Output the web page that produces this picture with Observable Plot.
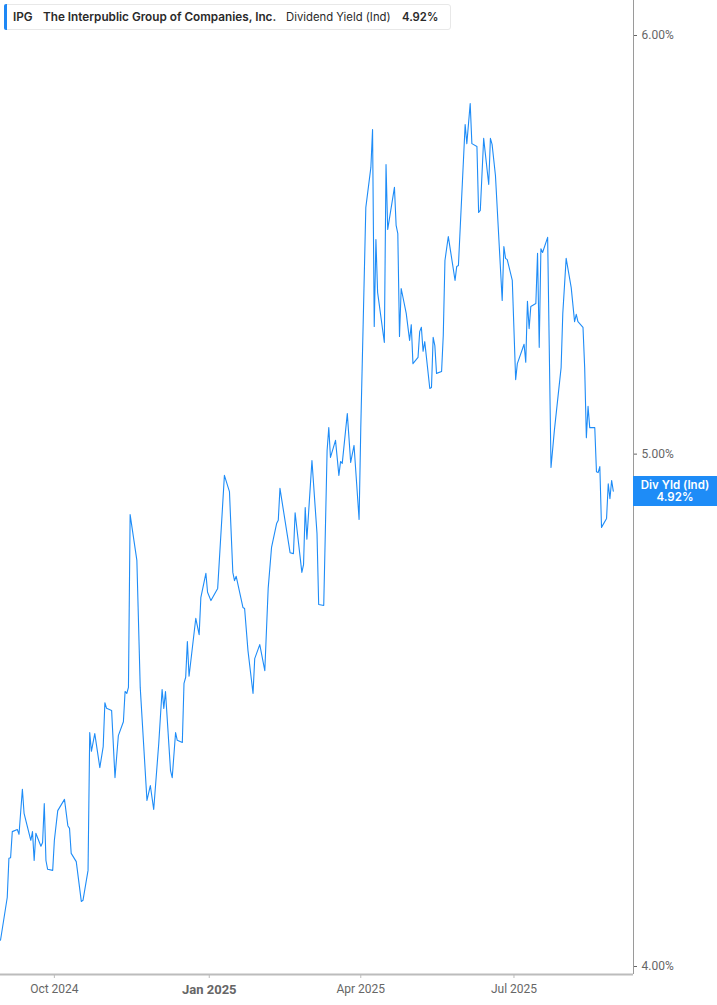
<!DOCTYPE html>
<html>
<head>
<meta charset="utf-8">
<script src="https://cdn.jsdelivr.net/npm/d3@7"></script>
<script src="https://cdn.jsdelivr.net/npm/@observablehq/plot@0.6"></script>
<style>
  body { margin: 0; background: #fff; }
  #wrap { position: relative; width: 717px; height: 1005px; overflow: hidden; background: #fff; }
  #legend { position: absolute; left: 4px; top: 4px; width: 447px; height: 26px; box-sizing: border-box;
    border: 1px solid #e8e8e8; border-radius: 3px; background: #fff;
    font-family: Inter, "Noto Sans", sans-serif; font-size: 11.3px; color: #2a2a2a; }
  #legend .bar { position: absolute; left: -1px; top: -1px; width: 3px; height: 26px; background: #1e88f5; border-radius: 2px 0 0 2px; }
  #legend span { position: absolute; top: 5px; white-space: nowrap; line-height: 14px; }
  #legend .b { font-weight: 600; }
  #legend .big { font-size: 11.75px; }
  #tag { position: absolute; left: 633px; width: 84px; height: 30px; background: #1e8cf7; color: #fff;
    font-family: Inter, "Noto Sans", sans-serif; font-weight: 600; font-size: 11.5px; text-align: center; line-height: 12px;
    box-sizing: border-box; padding-top: 3px; }
</style>
</head>
<body>
<div id="wrap">
  <div id="chart"></div>
  <div id="legend">
    <div class="bar"></div>
    <span class="b big" style="left:8px">IPG</span>
    <span class="b big" style="left:38px">The Interpublic Group of Companies, Inc.</span>
    <span style="left:281px">Dividend Yield (Ind)</span>
    <span class="b" style="left:397px">4.92%</span>
  </div>
  <div id="tag"><div>Div Yld (Ind)</div><div>4.92%</div></div>
</div>
<script>
const dates = [
"2024-08-30","2024-09-03","2024-09-04","2024-09-05","2024-09-06","2024-09-09","2024-09-10","2024-09-12","2024-09-13","2024-09-17","2024-09-18","2024-09-19","2024-09-20","2024-09-23","2024-09-24","2024-09-25","2024-09-26","2024-09-27","2024-09-30",
"2024-10-01","2024-10-03","2024-10-07","2024-10-09","2024-10-10","2024-10-11","2024-10-14","2024-10-17","2024-10-18","2024-10-21","2024-10-22","2024-10-23","2024-10-25","2024-10-28","2024-10-30","2024-10-31",
"2024-11-01","2024-11-04","2024-11-06","2024-11-08","2024-11-11","2024-11-12","2024-11-13","2024-11-14","2024-11-15","2024-11-19","2024-11-21","2024-11-25","2024-11-27","2024-11-29",
"2024-12-02","2024-12-04","2024-12-05","2024-12-06","2024-12-09","2024-12-10","2024-12-12","2024-12-13","2024-12-16","2024-12-17","2024-12-18","2024-12-19","2024-12-20","2024-12-24","2024-12-26","2024-12-27","2024-12-30","2024-12-31",
"2025-01-02","2025-01-06","2025-01-10","2025-01-13","2025-01-15","2025-01-16","2025-01-17","2025-01-21","2025-01-22","2025-01-24","2025-01-27","2025-01-28","2025-01-31",
"2025-02-03","2025-02-05","2025-02-07","2025-02-10","2025-02-11","2025-02-12","2025-02-18","2025-02-20","2025-02-21","2025-02-25","2025-02-26","2025-02-27","2025-02-28",
"2025-03-03","2025-03-06","2025-03-07","2025-03-10","2025-03-12","2025-03-13","2025-03-14","2025-03-17","2025-03-19","2025-03-20","2025-03-21","2025-03-24","2025-03-26","2025-03-28","2025-03-31",
"2025-04-01","2025-04-04","2025-04-07","2025-04-08","2025-04-09","2025-04-10","2025-04-11","2025-04-15","2025-04-16","2025-04-17","2025-04-21","2025-04-22","2025-04-23","2025-04-24","2025-04-25","2025-04-28","2025-04-30",
"2025-05-01","2025-05-02","2025-05-05","2025-05-06","2025-05-07","2025-05-08","2025-05-09","2025-05-12","2025-05-13","2025-05-14","2025-05-15","2025-05-16","2025-05-19","2025-05-20","2025-05-21","2025-05-23","2025-05-27","2025-05-28","2025-05-29",
"2025-06-02","2025-06-03","2025-06-05","2025-06-06","2025-06-09","2025-06-10","2025-06-11","2025-06-13","2025-06-16","2025-06-17","2025-06-18","2025-06-20","2025-06-24","2025-06-25","2025-06-26","2025-06-27","2025-06-30",
"2025-07-02","2025-07-03","2025-07-07","2025-07-08","2025-07-09","2025-07-10","2025-07-11","2025-07-14","2025-07-15","2025-07-16","2025-07-17","2025-07-18","2025-07-21","2025-07-23","2025-07-25","2025-07-29","2025-07-30",
"2025-08-01","2025-08-04","2025-08-06","2025-08-07","2025-08-08","2025-08-11","2025-08-12","2025-08-13","2025-08-14","2025-08-15","2025-08-18","2025-08-19","2025-08-20","2025-08-21","2025-08-22","2025-08-25","2025-08-26","2025-08-27","2025-08-28","2025-08-29"
];

const yields = [
4.046,4.122,4.193,4.194,4.242,4.246,4.237,4.321,4.276,4.226,4.242,4.189,4.239,4.215,4.222,4.294,4.189,4.173,4.171,
4.226,4.281,4.302,4.253,4.248,4.202,4.187,4.115,4.117,4.171,4.429,4.393,4.427,4.362,4.402,4.487,
4.476,4.472,4.343,4.423,4.450,4.509,4.505,4.517,4.870,4.774,4.517,4.300,4.328,4.283,
4.408,4.513,4.476,4.509,4.356,4.343,4.429,4.414,4.410,4.525,4.537,4.608,4.539,4.655,4.622,4.697,4.747,4.708,
4.691,4.716,4.954,4.919,4.749,4.732,4.741,4.677,4.675,4.590,4.505,4.574,4.602,
4.550,4.716,4.801,4.851,4.858,4.926,4.790,4.788,4.874,4.749,4.765,4.885,4.818,
4.986,4.830,4.683,4.681,5.008,5.058,4.993,5.030,4.954,4.984,4.980,5.089,4.982,5.019,4.860,
5.056,5.567,5.665,5.759,5.286,5.490,5.365,5.249,5.672,5.514,5.616,5.524,5.504,5.263,5.374,5.316,5.254,
5.290,5.201,5.215,5.274,5.284,5.229,5.251,5.145,5.147,5.261,5.242,5.179,5.183,5.265,5.440,5.497,5.393,5.426,5.428,
5.772,5.724,5.825,5.724,5.717,5.555,5.560,5.737,5.623,5.737,5.722,5.645,5.346,5.473,5.445,5.442,5.393,
5.165,5.201,5.245,5.204,5.344,5.281,5.332,5.339,5.457,5.238,5.468,5.459,5.495,4.971,5.052,5.192,5.316,
5.445,5.376,5.297,5.314,5.297,5.284,5.192,5.036,5.105,5.058,5.058,4.962,4.960,4.973,4.843,4.862,4.936,4.904,4.943,4.920
];

const yTicks = [4, 5, 6];
const xTickDates = ["2024-10-01", "2025-04-01", "2025-07-01"];
const xTickBold = ["2025-01-01"];
const xDomainDates = ["2024-08-30", "2025-09-10"];

const data = dates.map((d, i) => ({date: new Date(d + "T00:00:00Z"), value: yields[i]}));
const toDate = s => new Date(s + "T00:00:00Z");
const xDomain = xDomainDates.map(toDate);
const fmt = d3.utcFormat("%b %Y");

const chart = Plot.plot({
  width: 717,
  height: 1005,
  marginLeft: 0,
  marginRight: 84,
  marginTop: 0,
  marginBottom: 31,
  x: {type: "utc", domain: xDomain, range: [0, 633], label: null},
  y: {type: "log", domain: [4, 6], range: [966, 35], label: null},
  style: {fontFamily: "Roboto, sans-serif", fontSize: "12px", color: "#666", background: "#fff", overflow: "visible"},
  marks: [
    Plot.ruleY([3.9861], {stroke: "#bcbcbc", strokeWidth: 2}),
    Plot.ruleX([xDomain[1]], {stroke: "#9a9a9a", strokeWidth: 1}),
    Plot.axisY(yTicks, {anchor: "right", label: null, tickFormat: d => d.toFixed(2) + "%", tickSize: 3, tickPadding: 5, stroke: "#666", fill: "#666", fontSize: 12}),
    Plot.axisX(xTickDates.map(toDate), {anchor: "bottom", label: null, tickFormat: fmt, tickSize: 4, tickPadding: 6, stroke: "#bcbcbc", fill: "#666", fontSize: 12}),
    Plot.axisX(xTickBold.map(toDate), {anchor: "bottom", label: null, tickFormat: fmt, tickSize: 4, tickPadding: 6, stroke: "#bcbcbc", fill: "#666", fontSize: 13, fontWeight: "bold"}),
    Plot.line(data, {x: "date", y: "value", stroke: "#1e8cf7", strokeWidth: 1.1})
  ]
});
document.getElementById("chart").appendChild(chart);

const yPos = chart.scale("y").apply(yields[yields.length - 1]);
document.getElementById("tag").style.top = (yPos - 15) + "px";
</script>
</body>
</html>
